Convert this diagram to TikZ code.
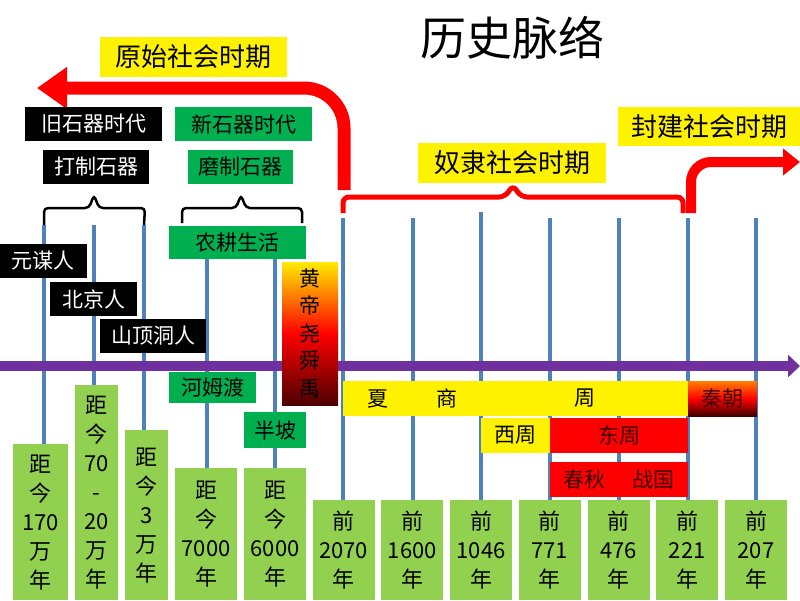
\documentclass[tikz,border=0pt]{standalone}
\usepackage{fontspec}
\setmainfont{Noto Sans CJK SC}
\usepackage{tikz}
\usetikzlibrary{arrows.meta}

\definecolor{timeline}{HTML}{7030A0}
\definecolor{tickblue}{HTML}{4F81BD}
\definecolor{stonegreen}{HTML}{00B050}
\definecolor{yeargreen}{HTML}{92D050}
\definecolor{darktext}{HTML}{3A0000}

\begin{document}
\begin{tikzpicture}[x=1pt,y=-1pt]
            \useasboundingbox (0,0) rectangle (800,600);

            % title
            \node[font=\fontsize{46}{50}\selectfont] (title) at (512,38) {历史脉络};

            % year boxes at the bottom
            \begin{scope}[every node/.style={fill=yeargreen, anchor=north, inner sep=0pt,
                          align=center, font=\fontsize{22}{29}\selectfont}]
                \node[minimum width=55pt, minimum height=156pt] (g1) at (40.5,444) {距\\今\\170\\万\\年};
                \node[minimum width=43pt, minimum height=215pt] (g2) at (96.5,385) {距\\今\\70\\-\\20\\万\\年};
                \node[minimum width=43pt, minimum height=170pt] (g3) at (146.5,430) {距\\今\\3\\万\\年};
                \node[minimum width=62pt, minimum height=132pt] (g4) at (206,468) {距\\今\\7000\\年};
                \node[minimum width=62pt, minimum height=132pt] (g5) at (275,468) {距\\今\\6000\\年};
                \foreach \yr [count=\i] in {2070,1600,1046,771,476,221,207}
                    \node[minimum width=62pt, minimum height=100pt] (q\i) at (343.5+68.75*\i-68.75,500) {前\\\yr\\年};
            \end{scope}

            % tick lines
            \foreach \name/\x/\y in {t1/44/225, t2/94/225, t3/144/225, t4/207/228, t5/275/228,
                                     u1/343/218, u2/413/218, u3/481/212, u4/550/218,
                                     u5/619/218, u6/688/218, u7/756/218}
                \coordinate (\name) at (\x,\y);
            \begin{scope}[tickblue, line width=4pt]
                \draw (t1) -- (t1 |- g1.north);
                \draw (t2) -- (t2 |- g2.north);
                \draw (t3) -- (t3 |- g3.north);
                \draw (t4) -- (t4 |- g4.north);
                \draw (t5) -- (t5 |- g5.north);
                \foreach \i in {1,...,7}
                    \draw (u\i) -- (u\i |- q\i.north);
            \end{scope}

            % time axis
            \coordinate (axisL) at (0,366);
            \coordinate (axisR) at (800,366);
            \draw[timeline, line width=10pt, -{Triangle[length=12pt,width=22pt]}] (axisL) -- (axisR);

            % period arrows and bracket
            \coordinate (yuanStart) at (344,190);
            \coordinate (yuanEnd) at (37,88);
            \coordinate (fengStart) at (691,213);
            \coordinate (fengEnd) at (800,162);
            \coordinate (nuL) at (343,213);
            \coordinate (nuR) at (683,213);
            \draw[red, line width=13pt, rounded corners=40pt, -{Triangle[length=30pt,width=40pt]}]
                (yuanStart) -- (yuanStart |- yuanEnd) -- (yuanEnd);
            \draw[red, line width=10pt, rounded corners=20pt, -{Triangle[length=17pt,width=26pt]}]
                (fengStart) -- (fengStart |- fengEnd) -- (fengEnd);
            \draw[red, line width=5pt, rounded corners=6pt]
                (nuL) -- (343,197) -- (505,197) -- (513,185) -- (521,197) -- (683,197) -- (nuR);

            % stone age braces
            \begin{scope}[black, line width=2.5pt, rounded corners=4pt]
                \draw (t1) -- (44,208) -- (89,208) -- (94,195) -- (99,208) -- (145,208) -- (t3);
                \draw (182,223) -- (182,208) -- (236,208) -- (241,195) -- (246,208) -- (302,208) -- (302,223);
            \end{scope}

            % labels
            \begin{scope}[every node/.style={inner sep=0pt, minimum height=34pt,
                          font=\fontsize{21}{28}\selectfont}]
                \node[fill=yellow, minimum width=187pt, minimum height=40pt, font=\fontsize{26}{30}\selectfont] (yuanshi) at (193.5,57) {原始社会时期};
                \node[fill=yellow, minimum width=188pt, minimum height=40pt, font=\fontsize{26}{30}\selectfont] (nuli) at (512,163) {奴隶社会时期};
                \node[fill=yellow, minimum width=182pt, minimum height=39pt, font=\fontsize{26}{30}\selectfont] (fengjian) at (709,126.5) {封建社会时期};

                \node[fill=black, text=white, minimum width=137pt] (jiushiqi) at (93.5,124) {旧石器时代};
                \node[fill=black, text=white, minimum width=106pt] (dazhi) at (96,167) {打制石器};
                \node[fill=stonegreen, minimum width=137pt] (xinshiqi) at (243.5,124) {新石器时代};
                \node[fill=stonegreen, minimum width=105pt] (mozhi) at (240.5,167) {磨制石器};
                \node[fill=stonegreen, minimum width=137pt, minimum height=33pt] (nonggeng) at (237.5,242.5) {农耕生活};

                \node[fill=black, text=white, minimum width=87pt] (yuanmou) at (43.5,261) {元谋人};
                \node[fill=black, text=white, minimum width=87pt] (beijing) at (93.5,299) {北京人};
                \node[fill=black, text=white, minimum width=106pt] (shanding) at (153,336) {山顶洞人};

                \node[fill=stonegreen, minimum width=87pt, minimum height=31pt] (hemudu) at (212.5,387.5) {河姆渡};
                \node[fill=stonegreen, minimum width=62pt, minimum height=36pt] (banpo) at (275,430) {半坡};
                \node[top color=yellow!85!orange, bottom color=red!30!black, middle color=red,
                      minimum width=56pt, minimum height=143pt, align=center,
                      font=\fontsize{21}{27.5}\selectfont] (huangdi) at (310,333.5) {黄\\帝\\尧\\舜\\禹};

                \node[fill=yellow, minimum width=69pt, minimum height=35pt] (xia) at (377.5,398.5) {夏};
                \node[fill=yellow, minimum width=69pt, minimum height=35pt] (shang) at (446.5,398.5) {商};
                \node[fill=yellow, minimum width=207pt, minimum height=35pt] (zhou) at (584.5,398.5) {周};
                \node[top color=orange, bottom color=red!25!black, middle color=red, text=darktext,
                      minimum width=69pt, minimum height=35pt] (qin) at (722.5,398.5) {秦朝};

                \node[fill=yellow, minimum width=69pt, minimum height=35pt] (xizhou) at (515.5,435.5) {西周};
                \node[fill=red, text=darktext, minimum width=138pt, minimum height=35pt] (dongzhou) at (619,435.5) {东周};
                \node[fill=red, text=darktext, minimum width=69pt, minimum height=35pt] (chunqiu) at (584.5,479.5) {春秋};
                \node[fill=red, text=darktext, minimum width=69pt, minimum height=35pt] (zhanguo) at (653.5,479.5) {战国};
            \end{scope}
\end{tikzpicture}
\end{document}
